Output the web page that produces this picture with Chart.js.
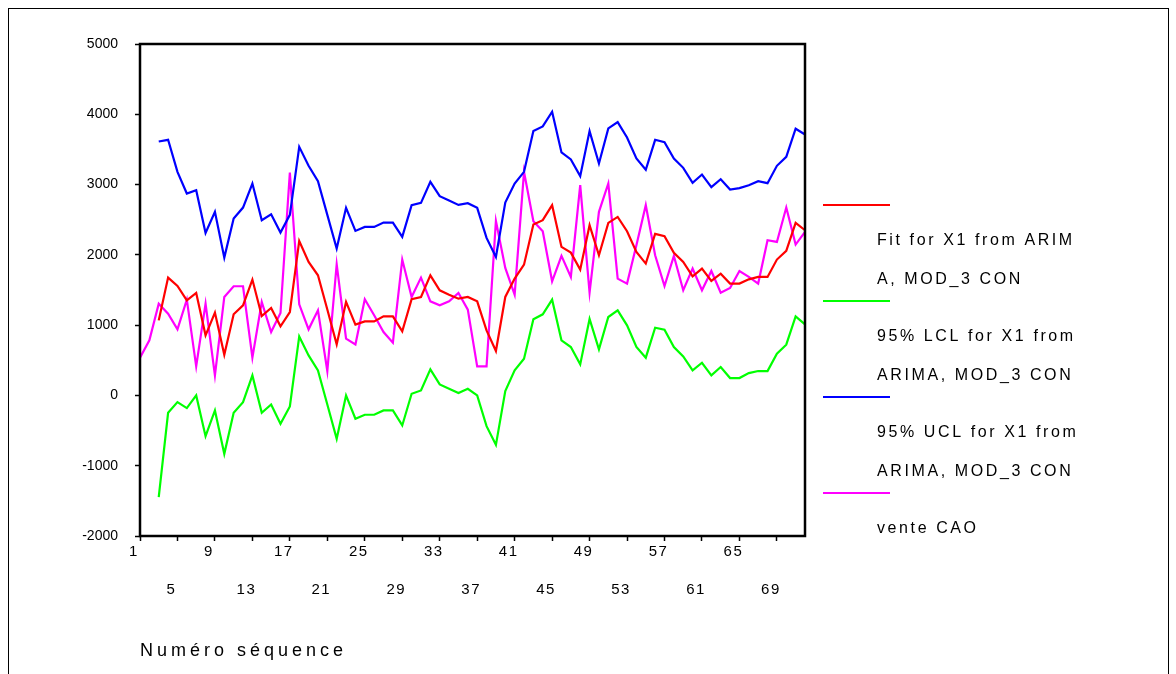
<!DOCTYPE html>
<html>
<head>
<meta charset="utf-8">
<title>Fit for X1 from ARIMA</title>
<script src="https://cdn.jsdelivr.net/npm/chart.js@4.4.0/dist/chart.umd.min.js"></script>
<style>
  html, body { margin: 0; padding: 0; background: #fff; }
  #wrap { position: relative; width: 1176px; height: 674px; overflow: hidden; }
</style>
</head>
<body>
<div id="wrap"><canvas id="chart" width="1176" height="674"></canvas></div>
<script>
// Numéro séquence (categories)
const seq = [1, 2, 3, 4, 5, 6, 7, 8, 9, 10, 11, 12, 13, 14, 15, 16, 17, 18, 19, 20, 21, 22, 23, 24,
  25, 26, 27, 28, 29, 30, 31, 32, 33, 34, 35, 36, 37, 38, 39, 40, 41, 42, 43, 44, 45, 46, 47, 48,
  49, 50, 51, 52, 53, 54, 55, 56, 57, 58, 59, 60, 61, 62, 63, 64, 65, 66, 67, 68, 69, 70, 71, 72];

// Fit for X1 from ARIMA, MOD_3 CON
const fitX1 = [null, null, 1068, 1676, 1557, 1353, 1458, 855, 1178, 579, 1154, 1282, 1648, 1130, 1244, 983,
  1187, 2198, 1899, 1709, 1222, 726, 1330, 1007, 1054, 1054, 1125, 1125, 912, 1368, 1401, 1709,
  1496, 1434, 1377, 1401, 1339, 926, 632, 1401, 1662, 1861, 2431, 2493, 2707, 2113, 2032, 1790,
  2422, 1994, 2455, 2540, 2336, 2042, 1876, 2298, 2265, 2028, 1899, 1695, 1804, 1629, 1733, 1591,
  1591, 1652, 1686, 1686, 1933, 2056, 2455, 2350];

// 95% LCL for X1 from ARIMA, MOD_3 CON
const lclX1 = [null, null, -1448, -247, -95, -180, 0, -579, -214, -831, -247, -95, 285, -247, -128, -404,
  -157, 840, 570, 356, -128, -617, 0, -332, -275, -275, -214, -214, -427, 24, 71, 370,
  157, 95, 33, 95, 0, -437, -703, 62, 356, 522, 1083, 1154, 1363, 783, 689, 442,
  1087, 655, 1116, 1211, 997, 689, 537, 964, 935, 689, 556, 356, 465, 285, 404, 247,
  247, 318, 347, 347, 594, 722, 1125, 1011];

// 95% UCL for X1 from ARIMA, MOD_3 CON
const uclX1 = [null, null, 3613, 3637, 3181, 2873, 2920, 2312, 2612, 1961, 2517, 2673, 3015, 2493, 2578, 2317,
  2570, 3537, 3267, 3048, 2569, 2089, 2669, 2341, 2398, 2398, 2460, 2460, 2255, 2707, 2740, 3039,
  2835, 2773, 2711, 2735, 2669, 2241, 1971, 2745, 3015, 3181, 3761, 3827, 4036, 3457, 3357, 3120,
  3761, 3300, 3799, 3889, 3670, 3371, 3210, 3637, 3604, 3371, 3238, 3025, 3143, 2963, 3077, 2930,
  2949, 2991, 3048, 3020, 3267, 3395, 3794, 3713];

// vente CAO
const venteCAO = [537, 783, 1306, 1163, 940, 1363, 413, 1306, 285, 1401, 1553, 1553, 537, 1330, 902, 1173,
  3172, 1296, 940, 1211, 347, 1866, 807, 726, 1368, 1140, 902, 750, 1933, 1401, 1676, 1339,
  1282, 1339, 1458, 1220, 413, 413, 2483, 1814, 1434, 3181, 2479, 2336, 1624, 1985, 1686, 2991,
  1462, 2612, 3015, 1662, 1591, 2137, 2707, 1994, 1557, 1985, 1496, 1804, 1496, 1771, 1462, 1529,
  1771, 1686, 1591, 2208, 2184, 2673, 2146, 2327];

// legend text, wrapped as in the original
const legendLines = [
  ['Fit for X1 from ARIM', 'A, MOD_3 CON'],
  ['95% LCL for X1 from', 'ARIMA, MOD_3 CON'],
  ['95% UCL for X1 from', 'ARIMA, MOD_3 CON'],
  ['vente CAO']
];
const seriesColors = ['#ff0000', '#00ff00', '#0000ff', '#ff00ff'];

const yTicks = [-2000, -1000, 0, 1000, 2000, 3000, 4000, 5000];
const labelEvery = 4;

const FONT = 'Arial, "Liberation Sans", sans-serif';

// draw a scale method with some letter spacing
function spaced(fn, spacing) {
  return function () {
    const c = this.ctx;
    const old = c.letterSpacing;
    c.letterSpacing = spacing;
    fn.apply(this, arguments);
    c.letterSpacing = old;
  };
}

// frame, outer border, letter spacing and legend
const decorPlugin = {
  id: 'decor',
  beforeDraw(chart) {
    const ctx = chart.ctx;
    const x = chart.scales.x;
    if (!x._spaced) {
      x.drawLabels = spaced(x.drawLabels, '1.5px');
      x.drawTitle = spaced(x.drawTitle, '4px');
      x._spaced = true;
    }
    ctx.save();
    ctx.fillStyle = '#fff';
    ctx.fillRect(0, 0, chart.width, chart.height);
    ctx.strokeStyle = '#000';
    ctx.lineWidth = 1;
    ctx.strokeRect(8.5, 8.5, 1160, 700);
    ctx.restore();
  },
  afterDatasetsDraw(chart) {
    const { ctx, chartArea: a } = chart;
    ctx.save();
    ctx.strokeStyle = '#000';
    ctx.lineWidth = 2.5;
    ctx.strokeRect(a.left, a.top, a.right - a.left, a.bottom - a.top);
    ctx.restore();
  },
  afterDraw(chart) {
    const ctx = chart.ctx;
    ctx.save();
    ctx.font = '16px ' + FONT;
    ctx.letterSpacing = '2.6px';
    ctx.fillStyle = '#000';
    ctx.textBaseline = 'middle';
    ctx.textAlign = 'left';
    chart.data.datasets.forEach((ds, i) => {
      const y0 = 205 + 96 * i;
      ctx.strokeStyle = ds.borderColor;
      ctx.lineWidth = 2;
      ctx.beginPath();
      ctx.moveTo(823, y0);
      ctx.lineTo(890, y0);
      ctx.stroke();
      ds.legendLines.forEach((line, j) => {
        ctx.fillText(line, 877, y0 + 36 + 39 * j);
      });
    });
    ctx.letterSpacing = '0px';
    ctx.restore();
  }
};

const series = [fitX1, lclX1, uclX1, venteCAO];

new Chart(document.getElementById('chart'), {
  type: 'line',
  data: {
    labels: seq,
    datasets: series.map((data, i) => ({
      label: legendLines[i].join(''),
      legendLines: legendLines[i],
      data: data,
      borderColor: seriesColors[i],
      backgroundColor: seriesColors[i],
      borderWidth: 2.2,
      pointRadius: 0,
      tension: 0,
      fill: false,
      spanGaps: false
    }))
  },
  options: {
    responsive: false,
    animation: false,
    devicePixelRatio: 1,
    layout: { padding: { left: 80, right: 371, top: 44, bottom: 0 } },
    plugins: {
      legend: { display: false },
      tooltip: { enabled: false }
    },
    scales: {
      x: {
        type: 'category',
        offset: false,
        afterFit: (s) => { s.height = 138; },
        border: { display: false },
        grid: {
          drawOnChartArea: false,
          drawTicks: true,
          tickLength: 5,
          tickWidth: 1.5,
          tickColor: (c) => (c.index % labelEvery === 0 ? '#000' : 'rgba(0,0,0,0)')
        },
        ticks: {
          autoSkip: false,
          maxRotation: 0,
          minRotation: 0,
          padding: -8,
          labelOffset: -6,
          color: '#000',
          font: { family: FONT, size: 15, lineHeight: '38px' },
          callback: function (value, index) {
            if (index % labelEvery !== 0) return '';
            const txt = String(seq[index]);
            return (index / labelEvery) % 2 === 0 ? txt : ['', txt];
          }
        },
        title: {
          display: true,
          text: 'Numéro séquence',
          align: 'start',
          color: '#000',
          font: { family: FONT, size: 18 },
          padding: { top: 0, bottom: 12 }
        }
      },
      y: {
        min: yTicks[0],
        max: yTicks[yTicks.length - 1],
        afterFit: (s) => { s.width = 60; },
        afterBuildTicks: (s) => { s.ticks = yTicks.map(v => ({ value: v })); },
        border: { display: false },
        grid: {
          drawOnChartArea: false,
          drawTicks: true,
          tickLength: 5,
          tickWidth: 1.5,
          tickColor: '#000'
        },
        ticks: {
          padding: 17,
          color: '#000',
          font: { family: FONT, size: 14 },
          callback: (v) => String(v)
        }
      }
    }
  },
  plugins: [decorPlugin]
});
</script>
</body>
</html>
